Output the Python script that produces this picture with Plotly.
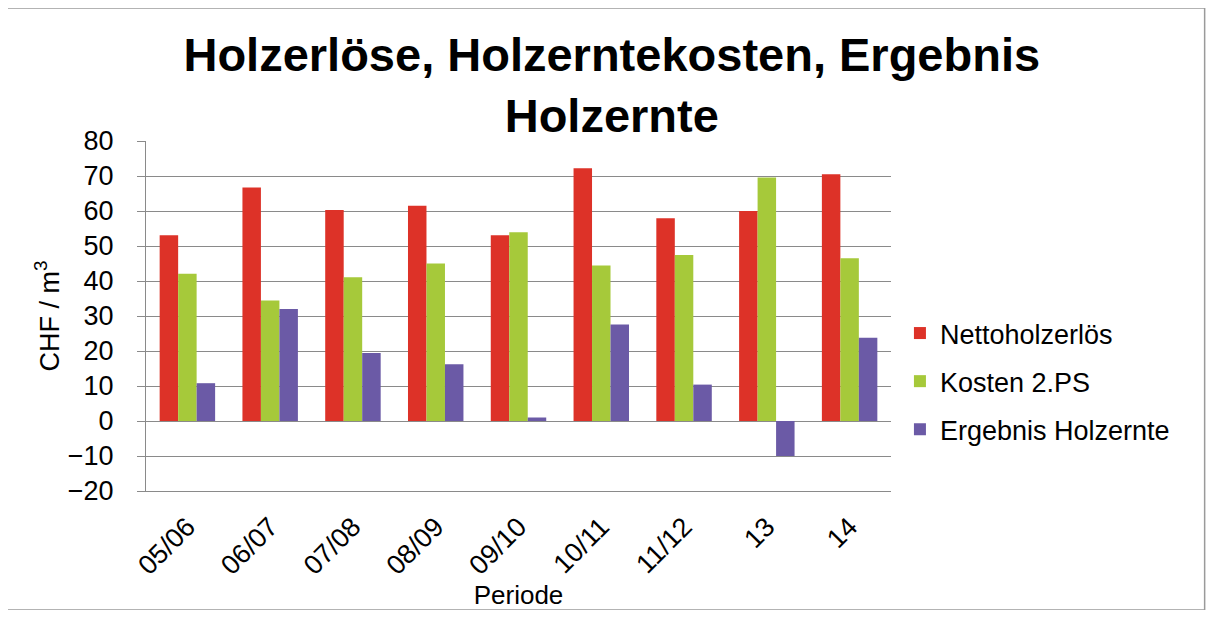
import plotly.graph_objects as go

periods = ["05/06", "06/07", "07/08", "08/09", "09/10", "10/11", "11/12", "13", "14"]
netto = [53.1, 66.7, 60.3, 61.5, 53.1, 72.2, 57.9, 60.0, 70.5]
kosten = [42.1, 34.4, 41.1, 45.0, 53.9, 44.4, 47.4, 69.6, 46.5]
ergebnis = [10.8, 32.0, 19.4, 16.2, 1.0, 27.6, 10.4, -10.0, 23.8]

series = [
    ("Nettoholzerlös", netto, "#dd3228"),
    ("Kosten 2.PS", kosten, "#a6c93a"),
    ("Ergebnis Holzernte", ergebnis, "#6b5aa6"),
]

font = "Liberation Sans, Arial, sans-serif"

fig = go.Figure()
for name, vals, color in series:
    fig.add_trace(go.Bar(
        x=periods, y=vals, name=name, legendgroup=name,
        marker=dict(color=color, line=dict(width=0)),
    ))

# page body has an 8px margin, so the figure is a bit smaller than the window
fig.update_layout(
    width=1198,
    height=602,
    barmode="group",
    bargap=0.33,
    bargroupgap=0,
    plot_bgcolor="white",
    paper_bgcolor="white",
    margin=dict(l=138, r=315, t=133, b=119, autoexpand=False),
    font=dict(family=font, color="black"),
    title=dict(
        text="<b>Holzerlöse, Holzerntekosten, Ergebnis<br>Holzernte</b>",
        font=dict(size=47, family=font),
        x=0.504, xanchor="center", xref="container",
        y=1 - 63 / 602, yanchor="middle", yref="container",
    ),
    legend=dict(
        x=1.012, xanchor="left", y=0.52, yanchor="top",
        font=dict(size=27), itemsizing="constant", tracegroupgap=10,
        bgcolor="rgba(0,0,0,0)",
    ),
    shapes=[dict(
        type="rect", xref="paper", yref="paper",
        x0=-0.187, x1=1.421, y0=-0.34, y1=1.38,
        line=dict(color="#9a9a9a", width=1.5),
    )],
)

fig.update_yaxes(
    range=[-20, 80], dtick=10, automargin=False,
    showgrid=True, gridcolor="#8a8a8a", gridwidth=1.2,
    zeroline=True, zerolinecolor="#8a8a8a", zerolinewidth=1.2,
    showline=True, linecolor="#8a8a8a", linewidth=1.2,
    ticks="outside", ticklen=8, tickcolor="#8a8a8a",
    ticklabelstandoff=18,
    tickfont=dict(size=27),
    title=dict(text="CHF / m<sup>3</sup>", font=dict(size=27), standoff=0),
)
fig.update_xaxes(
    automargin=False,
    showline=True, linecolor="#8a8a8a", linewidth=1.2,
    tickangle=-45, tickfont=dict(size=27), ticklabelstandoff=8,
    title=dict(text="Periode", font=dict(size=26), standoff=15),
)

fig.write_html("out.html")
